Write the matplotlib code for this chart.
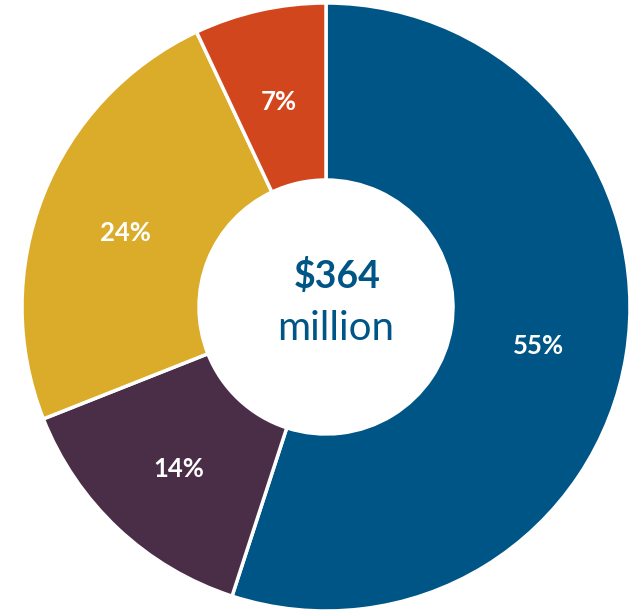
import matplotlib
matplotlib.use("Agg")
import matplotlib.pyplot as plt
import numpy as np

# Funding split, clockwise from the top
shares = [55, 14, 24, 7]
share_labels = ["55%", "14%", "24%", "7%"]
colors = ["#005587", "#4A2E47", "#DAAC2A", "#D2461E"]
total_amount = "$364"
total_unit = "million"

W, H = 637, 613
fig = plt.figure(figsize=(W / 100, H / 100), dpi=100)
ax = fig.add_axes([0, 0, 1, 1])

cx, cy = 326, H - 307
r_out, r_in = 304, 127

wedges, _ = ax.pie(
    shares,
    colors=colors,
    startangle=90,
    counterclock=False,
    radius=r_out,
    center=(cx, cy),
    frame=True,
    wedgeprops=dict(width=r_out - r_in, edgecolor="white", linewidth=2.5),
)
ax.set_xlim(0, W)
ax.set_ylim(0, H)
ax.axis("off")

# percentage labels in the middle of the ring
mid_r = (r_out + r_in) / 2
for w, lab in zip(wedges, share_labels):
    ang = np.deg2rad((w.theta1 + w.theta2) / 2)
    ax.text(cx + mid_r * np.cos(ang), cy + mid_r * np.sin(ang) - 5, lab,
            ha="center", va="center", color="white", fontsize=18.5,
            fontweight="bold", family="Lato")

ax.text(cx + 11, cy + 31, total_amount, ha="center", va="center",
        color="#005587", fontsize=27, fontweight="bold", family="Lato")
ax.text(cx + 10, cy - 22, total_unit, ha="center", va="center",
        color="#005587", fontsize=29, family="Lato")

fig.savefig("out.png", dpi=100, facecolor="white")
